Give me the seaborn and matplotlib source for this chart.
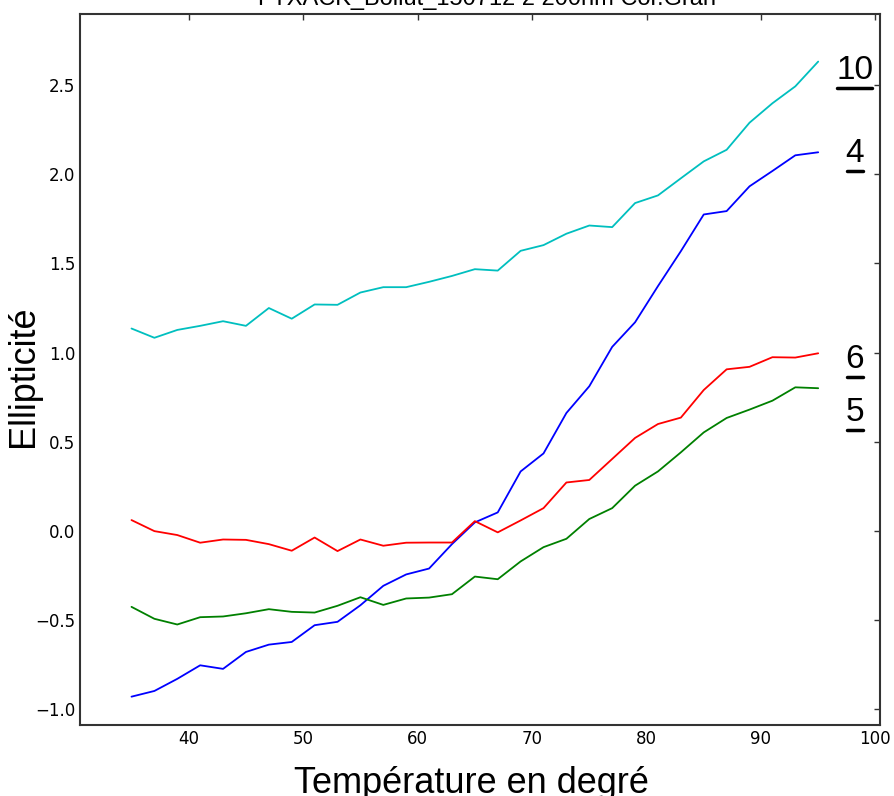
import numpy as np
import pandas as pd
import matplotlib
matplotlib.use("Agg")
import matplotlib.pyplot as plt
from matplotlib.lines import Line2D
import seaborn as sns

# temperature (deg) and ellipticity of the four samples
temperature = list(range(35, 96, 2))

ellip_10 = [1.135, 1.083, 1.127, 1.150, 1.176, 1.150, 1.250, 1.190, 1.270, 1.268,
            1.337, 1.367, 1.367, 1.397, 1.430, 1.468, 1.460, 1.571, 1.603, 1.667,
            1.713, 1.704, 1.839, 1.882, 1.978, 2.073, 2.138, 2.290, 2.399, 2.494, 2.633]
ellip_4 = [-0.931, -0.899, -0.831, -0.755, -0.775, -0.680, -0.639, -0.624, -0.530, -0.511,
           -0.418, -0.309, -0.245, -0.212, -0.075, 0.047, 0.103, 0.333, 0.434, 0.661,
           0.811, 1.032, 1.170, 1.373, 1.569, 1.775, 1.794, 1.933, 2.019, 2.107, 2.124]
ellip_6 = [0.060, -0.002, -0.024, -0.067, -0.049, -0.051, -0.075, -0.112, -0.038, -0.114,
           -0.049, -0.084, -0.067, -0.066, -0.066, 0.054, -0.009, 0.058, 0.127, 0.271,
           0.285, 0.403, 0.521, 0.599, 0.635, 0.790, 0.906, 0.920, 0.974, 0.972, 0.996]
ellip_5 = [-0.427, -0.494, -0.526, -0.485, -0.481, -0.463, -0.440, -0.455, -0.459, -0.421,
           -0.373, -0.416, -0.380, -0.375, -0.356, -0.257, -0.272, -0.172, -0.092, -0.045,
           0.066, 0.127, 0.253, 0.333, 0.440, 0.552, 0.633, 0.680, 0.730, 0.805, 0.800]

sample_names = ["10", "4", "6", "5"]
sample_colors = ["#00bfbf", "#0000ff", "#ff0000", "#008000"]
label_y = [2.585, 2.115, 0.96, 0.665]

df = pd.DataFrame({"T": temperature, "10": ellip_10, "4": ellip_4,
                   "6": ellip_6, "5": ellip_5})
long_df = df.melt(id_vars="T", var_name="sample", value_name="ellip")

sns.set_style("white")
plt.rcParams["xtick.direction"] = "in"
plt.rcParams["ytick.direction"] = "in"
plt.rcParams["xtick.top"] = True
plt.rcParams["ytick.right"] = True
plt.rcParams["text.color"] = "black"
plt.rcParams["axes.labelcolor"] = "black"
plt.rcParams["font.family"] = ["DejaVu Sans"]

fig = plt.figure(figsize=(8.95, 7.96), dpi=100)
ax = fig.add_axes([80 / 895, 1 - 725 / 796, 800 / 895, 711 / 796])

sns.lineplot(data=long_df, x="T", y="ellip", hue="sample",
             hue_order=sample_names, palette=sample_colors,
             linewidth=1.3, legend=False, ax=ax)

labels = []
for name, ly in zip(sample_names, label_y):
    t = ax.text(98.2, ly, name, fontsize=24, family="Liberation Sans",
                ha="center", va="center", color="black")
    labels.append(t)

ax.set_xlim(30.5, 100.4)
ax.set_ylim(-1.09, 2.90)
ax.set_xticks([40, 50, 60, 70, 80, 90, 100])
ax.set_yticks([-1.0, -0.5, 0.0, 0.5, 1.0, 1.5, 2.0, 2.5])
ax.tick_params(labelsize=12, length=4, width=1, colors="#333333", labelcolor="black")
for s in ax.spines.values():
    s.set_linewidth(1.5)
    s.set_color("#333333")

ax.set_xlabel("Température en degré", fontsize=26, family="Liberation Sans", color="black")
ax.set_ylabel("Ellipticité", fontsize=26, family="Liberation Sans", color="black")
ax.xaxis.set_label_coords(0.489, -0.057)
ax.yaxis.set_label_coords(-0.049, 0.491)

# title sits mostly above the canvas, as in the original
fig.text(0.544, 1 - 5 / 796, "FTXACK_Bollut_150712 2 200nm Cor.Gran",
         fontsize=17, family="Liberation Sans", ha="center", va="baseline", color="black")

# underline the sample labels
fig.canvas.draw()
renderer = fig.canvas.get_renderer()
inv = fig.transFigure.inverted()
for t in labels:
    bb = t.get_window_extent(renderer)
    (x0, y0), (x1, _) = inv.transform([(bb.x0 + 1, bb.y0 - 2), (bb.x1 - 1, bb.y0)])
    fig.add_artist(Line2D([x0, x1], [y0, y0], transform=fig.transFigure,
                          color="black", linewidth=2.5))

fig.savefig("out.png", dpi=100)
